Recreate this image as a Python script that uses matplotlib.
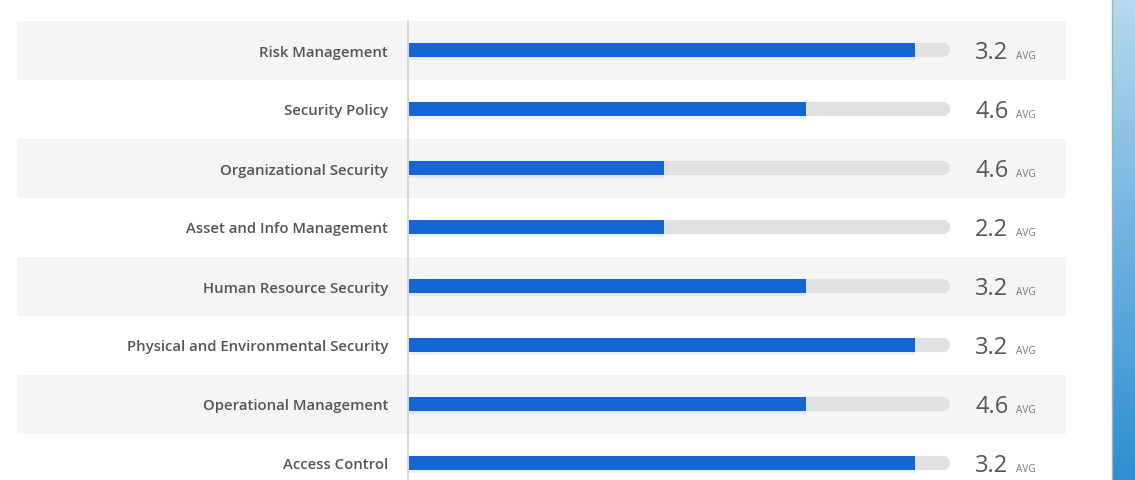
import matplotlib.pyplot as plt
import numpy as np
from matplotlib.patches import Rectangle

plt.rcParams['font.family'] = ['Open Sans', 'DejaVu Sans']

categories = ['Risk Management', 'Security Policy', 'Organizational Security',
              'Asset and Info Management', 'Human Resource Security',
              'Physical and Environmental Security', 'Operational Management',
              'Access Control']
fill_pct = [93.5, 73.4, 47.1, 47.1, 73.4, 93.5, 73.4, 93.5]
avg_scores = [3.2, 4.6, 4.6, 2.2, 3.2, 3.2, 4.6, 3.2]

W, H = 1135, 481
PX = 5.41          # pixels per percent unit
X0 = 409           # pixel where the bar starts
ROW = 59           # row height in pixels
Y0 = 51            # first row centre in pixels

fig = plt.figure(figsize=(W / 100, H / 100), dpi=100)
ax = fig.add_axes([0, 0, 1, 1])
ax.set_xlim(-X0 / PX, (W - X0) / PX)
ax.set_ylim((H - Y0) / ROW, -Y0 / ROW)
ax.axis('off')

def px(x):
    return (x - X0) / PX

track_color = '#e1e1e1'
blue = '#1565d2'
text_color = '#555555'
cap = 7 / PX

for i, (name, pct, avg) in enumerate(zip(categories, fill_pct, avg_scores)):
    if i % 2 == 0:
        ax.add_patch(Rectangle((px(17), i - 0.5), px(1066) - px(17), 1,
                               color='#f5f5f5', zorder=0, lw=0))
    # grey track with rounded right end
    ln, = ax.plot([0, 100 - cap], [i, i], color=track_color, lw=10.2,
                  solid_capstyle='round', zorder=1)
    clip = Rectangle((0, i - 1), 200, 2, transform=ax.transData)
    ln.set_clip_path(clip)
    # soft shadow under the fill
    ax.barh(i + 0.04, pct, height=0.26, left=0, color='#000000', alpha=0.06,
            zorder=1.5, lw=0)
    ax.barh(i, pct, height=14 / ROW, left=0, color=blue, zorder=2, lw=0)
    ax.text(px(388), i, name, ha='right', va='center_baseline', fontsize=10.7,
            color=text_color, fontweight='semibold')
    ax.text(px(975), i + 0.14, f'{avg:.1f}', ha='left', va='baseline',
            fontsize=17, color=text_color, fontweight='medium')
    ax.text(px(1016), i + 0.14, 'AVG', ha='left', va='baseline',
            fontsize=7.2, color='#777777')

# vertical divider
ax.plot([px(408), px(408)], [-0.5, 8], color='#d2d2d2', lw=1.2, zorder=3)

# blue strip on the right edge
grad = np.linspace(0, 1, 256).reshape(-1, 1)
cmap = plt.matplotlib.colors.LinearSegmentedColormap.from_list(
    'strip', ['#b6d9ee', '#6fb2e0', '#2e8ed0'])
ax.imshow(grad, cmap=cmap, aspect='auto', zorder=4,
          extent=[px(1112), px(1135), (H - Y0) / ROW, -Y0 / ROW])
ax.plot([px(1112), px(1112)], [-1, 8], color='#9ab4c6', lw=1.0, zorder=5)
ax.set_xlim(-X0 / PX, (W - X0) / PX)
ax.set_ylim((H - Y0) / ROW, -Y0 / ROW)

fig.savefig('out.png', dpi=100)
